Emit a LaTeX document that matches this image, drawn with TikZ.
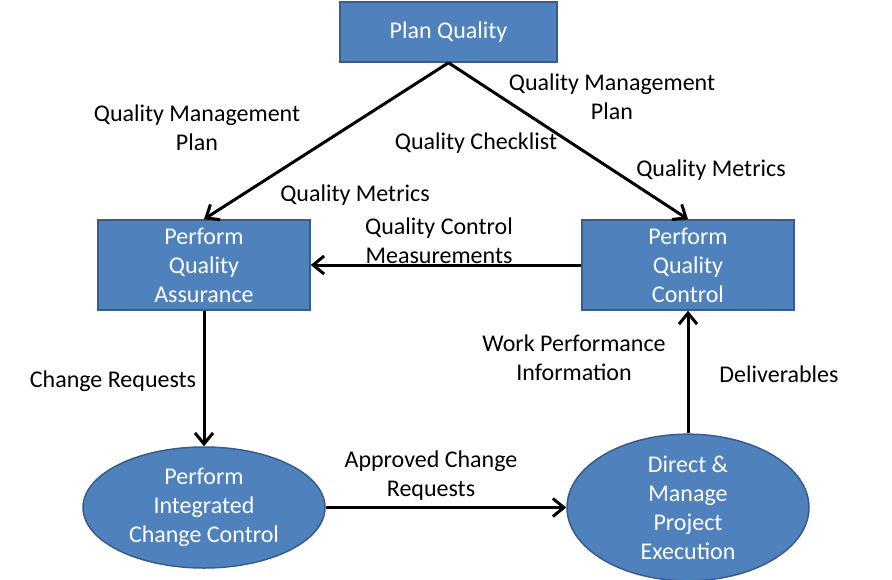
\documentclass[tikz,border=0pt]{standalone}
\usepackage{fontspec}
\setmainfont{Carlito}
\usetikzlibrary{arrows.meta,shapes.geometric}
\definecolor{boxfill}{HTML}{4F81BD}
\definecolor{boxline}{HTML}{385D8A}
\begin{document}
\begin{tikzpicture}[x=1pt,y=-1pt,
  every node/.style={font=\fontsize{24}{29}\selectfont, align=center, inner sep=0pt},
  procbox/.style={draw=boxline, line width=1.5pt, fill=boxfill, text=white, minimum width=#1},
  ovalbox/.style={ellipse, draw=boxline, line width=1.5pt, fill=boxfill, text=white, minimum width=242pt, minimum height=121pt},
  flow/.style={line width=3pt, -{Straight Barb[length=11pt,width=18pt,line width=3pt]}},
  lbl/.style={text=black}]
\useasboundingbox (0,0) rectangle (892,579);
\node[procbox=217pt, minimum height=60pt] (pq) at (448.5,32) {Plan Quality};
\node[procbox=212pt, minimum height=90pt] (pqa) at (204,265) {Perform\\Quality\\Assurance};
\node[procbox=212pt, minimum height=90pt] (pqc) at (688,265) {Perform\\Quality\\Control};
\node[ovalbox] (picc) at (204,507.5) {Perform\\Integrated\\Change Control};
\node[ovalbox] (dmpe) at (688,507.5) {Direct \&\\Manage\\Project\\Execution};

\draw[flow] (pq.south) -- (pqa.north);
\draw[flow] (pq.south) -- (pqc.north);
\draw[flow] (pqc.west) -- (pqa.east);
\draw[flow] (pqa.south) -- (picc.north);
\draw[flow] (picc.east) -- (dmpe.west);
\draw[flow] (dmpe.north) -- (pqc.south);

\node[lbl] (l1) at (197,128) {Quality Management\\Plan};
\node[lbl] (l2) at (612,97) {Quality Management\\Plan};
\node[lbl] (l3) at (476,143) {Quality Checklist};
\node[lbl] (l4) at (355,195) {Quality Metrics};
\node[lbl] (l5) at (711,170) {Quality Metrics};
\node[lbl] (l6) at (439,241) {Quality Control\\Measurements};
\node[lbl] (l7) at (113,381) {Change Requests};
\node[lbl] (l8) at (574,358) {Work Performance\\Information};
\node[lbl] (l9) at (779,374) {Deliverables};
\node[lbl] (l10) at (431,476) {Approved Change\\Requests};
\end{tikzpicture}
\end{document}
